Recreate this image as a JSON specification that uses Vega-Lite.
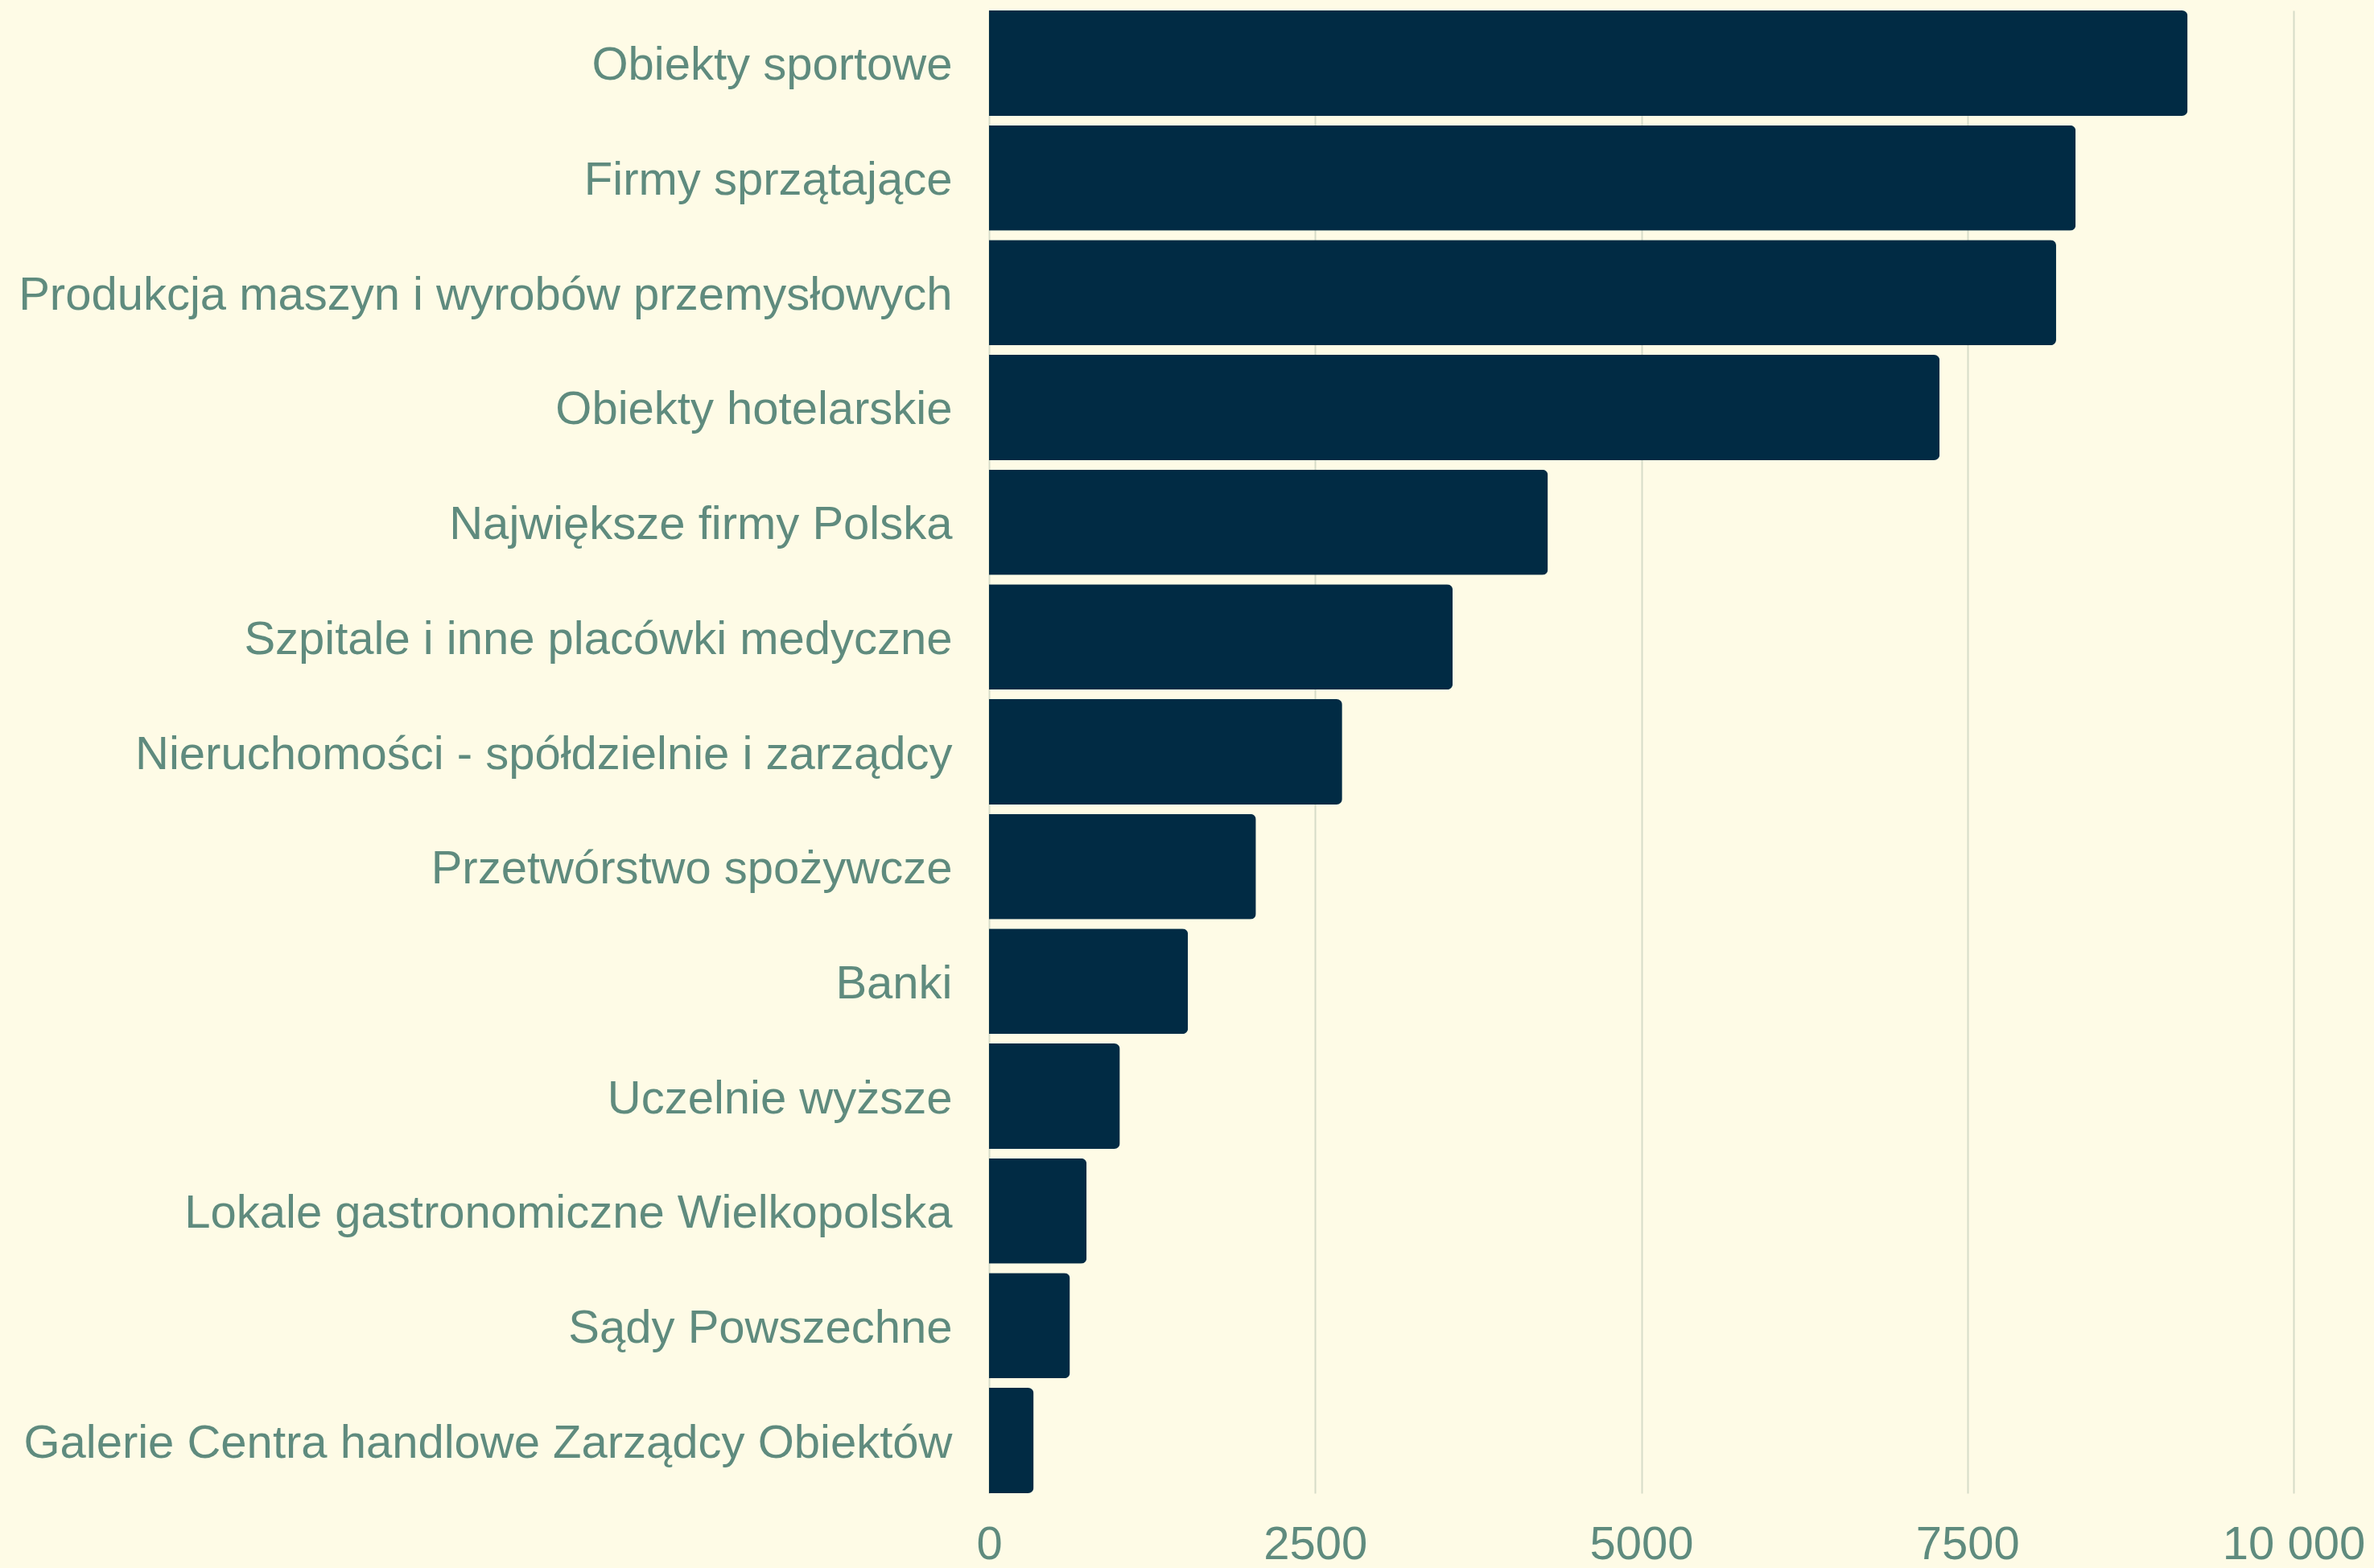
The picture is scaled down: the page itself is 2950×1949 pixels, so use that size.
{
  "$schema": "https://vega.github.io/schema/vega-lite/v6.json",
  "width": 1621,
  "height": 1843,
  "autosize": {"type": "none"},
  "padding": {"left": 1229, "top": 13, "right": 100, "bottom": 93},
  "background": "#fefbe6",
  "data": {
    "values": [
      {"kategoria": "Obiekty sportowe", "wartosc": 9188},
      {"kategoria": "Firmy sprzątające", "wartosc": 8330},
      {"kategoria": "Produkcja maszyn i wyrobów przemysłowych", "wartosc": 8180},
      {"kategoria": "Obiekty hotelarskie", "wartosc": 7287},
      {"kategoria": "Największe firmy Polska", "wartosc": 4284},
      {"kategoria": "Szpitale i inne placówki medyczne", "wartosc": 3554},
      {"kategoria": "Nieruchomości - spółdzielnie i zarządcy", "wartosc": 2707},
      {"kategoria": "Przetwórstwo spożywcze", "wartosc": 2046},
      {"kategoria": "Banki", "wartosc": 1525},
      {"kategoria": "Uczelnie wyższe", "wartosc": 1003},
      {"kategoria": "Lokale gastronomiczne Wielkopolska", "wartosc": 748},
      {"kategoria": "Sądy Powszechne", "wartosc": 620},
      {"kategoria": "Galerie Centra handlowe Zarządcy Obiektów", "wartosc": 342}
    ]
  },
  "mark": {"type": "bar", "color": "#012b44", "cornerRadiusEnd": 7},
  "encoding": {
    "y": {
      "field": "kategoria",
      "type": "nominal",
      "sort": "-x",
      "title": null,
      "scale": {"paddingInner": 0.082, "paddingOuter": 0},
      "axis": {
        "ticks": false,
        "domain": false,
        "grid": false,
        "labelFont": "Liberation Sans",
        "labelFontSize": 58,
        "labelColor": "#5f8b7e",
        "labelPadding": 46,
        "labelOffset": 4,
        "labelLimit": 1300
      }
    },
    "x": {
      "field": "wartosc",
      "type": "quantitative",
      "title": null,
      "scale": {"domain": [0, 10000], "nice": false},
      "axis": {
        "values": [0, 2500, 5000, 7500, 10000],
        "labelExpr": "datum.value >= 10000 ? '10 000' : format(datum.value, 'd')",
        "ticks": false,
        "domain": false,
        "grid": true,
        "gridColor": "#d6dcc8",
        "gridWidth": 2,
        "labelFont": "Liberation Sans",
        "labelFontSize": 58,
        "labelColor": "#5f8b7e",
        "labelPadding": 35,
        "labelFlush": false,
        "labelOverlap": false
      }
    }
  },
  "config": {"view": {"stroke": null}}
}
